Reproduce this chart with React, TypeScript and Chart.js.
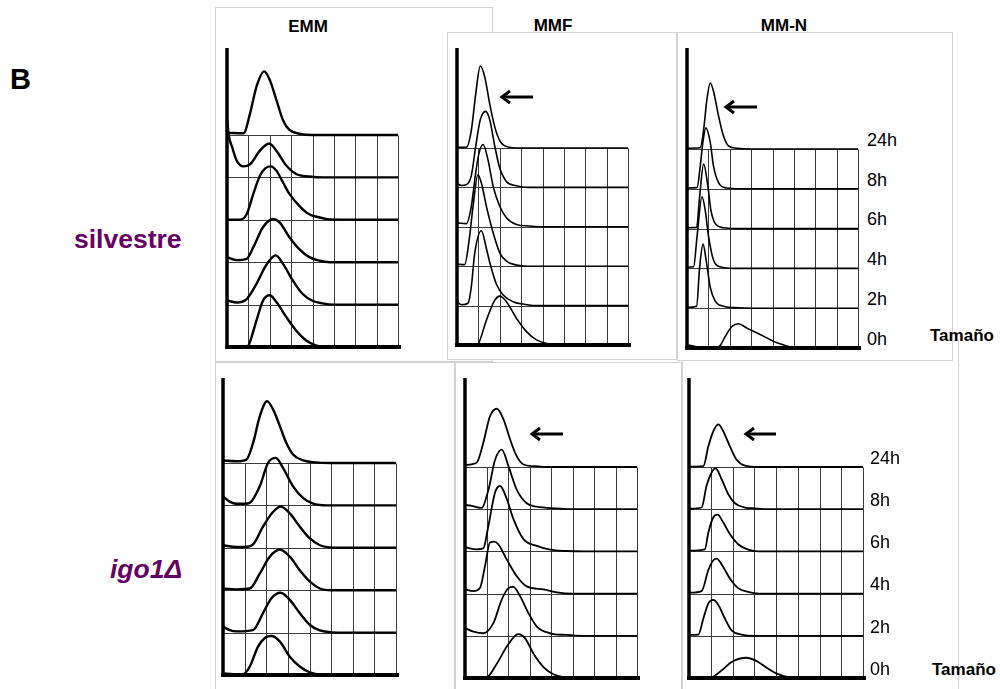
import React, { useEffect, useRef } from "react";
import { Chart, registerables } from "chart.js";

Chart.register(...registerables);

// ---------- DATA ----------
// Row labels (bottom row first)
const TIMES = ["0h", "2h", "4h", "6h", "8h", "24h"];
const MEDIA = ["EMM", "MMF", "MM-N"];
const STRAINS = ["silvestre", "igo1Δ"];
const X_AXIS_LABEL = "Tamaño";
const GRID_COLUMNS = 8;
const GRID_ROWS = 5;

// Each curve: [size (grid columns), height (row units)] ; curve order = TIMES
const wtEMM: number[][][] = [
  [[0, 0], [0.9, 0], [1.0, 0.03], [1.38, 0.63], [1.69, 1.1], [2.0, 1.22], [2.31, 1.06], [2.77, 0.71], [3.23, 0.39], [3.69, 0.16], [4.15, 0.04], [4.6, 0], [8, 0]],
  [[0, 0.1], [0.46, 0.05], [0.92, 0.13], [1.38, 0.49], [1.77, 0.88], [2.05, 1.08], [2.28, 1.16], [2.62, 0.96], [3.08, 0.57], [3.54, 0.25], [4.0, 0.09], [4.46, 0.03], [5, 0], [8, 0]],
  [[0, 0.12], [0.46, 0.05], [0.92, 0.08], [1.23, 0.35], [1.69, 0.83], [2.15, 1.02], [2.46, 0.94], [2.92, 0.59], [3.38, 0.31], [3.85, 0.12], [4.3, 0.04], [4.8, 0], [8, 0]],
  [[0, 0], [0.6, 0], [0.92, 0.13], [1.23, 0.61], [1.54, 1.04], [1.8, 1.22], [2.05, 1.26], [2.31, 1.16], [2.62, 0.88], [2.92, 0.61], [3.38, 0.33], [3.85, 0.13], [4.3, 0.06], [4.8, 0.01], [8, 0]],
  [[0, 1.4], [0.08, 1.0], [0.25, 0.7], [0.46, 0.39], [0.77, 0.26], [1.08, 0.31], [1.54, 0.63], [1.97, 0.8], [2.31, 0.63], [2.77, 0.28], [3.23, 0.08], [3.85, 0.02], [4.5, 0], [8, 0]],
  [[0, 0.05], [0.77, 0.04], [1.08, 0.51], [1.38, 1.14], [1.74, 1.5], [2.0, 1.3], [2.31, 0.83], [2.62, 0.35], [2.92, 0.12], [3.38, 0.03], [4, 0], [8, 0]],
];

const wtMMF: number[][][] = [
  [[0, 0], [0.9, 0], [1.0, 0.03], [1.375, 0.63], [1.77, 1.14], [2.0, 1.24], [2.31, 1.1], [2.78, 0.68], [3.25, 0.34], [3.72, 0.13], [4.19, 0.04], [4.7, 0], [8, 0]],
  [[0, 0.1], [0.2, 0.02], [0.52, 0.06], [0.67, 0.48], [0.83, 1.33], [1.14, 1.9], [1.375, 1.45], [1.53, 1.1], [1.84, 0.55], [2.16, 0.27], [2.62, 0.1], [3.2, 0.03], [3.8, 0], [8, 0]],
  [[0, 0.05], [0.36, 0.04], [0.59, 0.76], [0.75, 1.52], [0.98, 2.32], [1.14, 2.11], [1.375, 1.52], [1.69, 0.85], [2.0, 0.34], [2.31, 0.13], [2.78, 0.03], [3.3, 0], [8, 0]],
  [[0, 0.1], [0.44, 0.08], [0.67, 0.52], [0.875, 1.37], [1.03, 1.87], [1.22, 2.09], [1.45, 1.7], [1.69, 1.03], [2.0, 0.52], [2.31, 0.23], [2.78, 0.06], [3.4, 0.02], [4, 0], [8, 0]],
  [[0, 0.1], [0.2, 0.05], [0.44, 0.07], [0.67, 0.3], [0.875, 1.04], [1.09, 1.72], [1.34, 1.93], [1.53, 1.72], [1.77, 1.04], [2.0, 0.49], [2.31, 0.15], [2.78, 0.04], [3.3, 0], [8, 0]],
  [[0, 0.02], [0.44, 0.02], [0.67, 0.45], [0.875, 1.37], [1.09, 2.08], [1.3, 1.8], [1.53, 1.12], [1.77, 0.53], [2.0, 0.19], [2.31, 0.04], [3, 0], [8, 0]],
];

const wtMMN: number[][][] = [
  [[0, 0.08], [0.3, 0.05], [0.6, 0.02], [1.4, 0.02], [1.55, 0.06], [1.79, 0.29], [2.1, 0.54], [2.41, 0.61], [2.8, 0.5], [3.42, 0.34], [4.04, 0.17], [4.5, 0.08], [4.9, 0.02], [5.5, 0], [8, 0]],
  [[0, 0.02], [0.45, 0.05], [0.59, 1.02], [0.75, 1.61], [0.9, 1.19], [1.09, 0.52], [1.32, 0.18], [1.71, 0.05], [2.4, 0.01], [3, 0], [8, 0]],
  [[0, 0.03], [0.31, 0.04], [0.47, 0.8], [0.7, 1.8], [0.85, 1.47], [1.01, 0.8], [1.24, 0.21], [1.55, 0.04], [2.2, 0], [8, 0]],
  [[0, 0.02], [0.45, 0.03], [0.59, 0.8], [0.78, 1.62], [0.96, 1.13], [1.12, 0.46], [1.32, 0.13], [1.71, 0.02], [2.3, 0], [8, 0]],
  [[0, 0.02], [0.47, 0.03], [0.62, 0.57], [0.75, 1.2], [0.885, 1.53], [1.09, 1.16], [1.24, 0.57], [1.48, 0.15], [1.86, 0.02], [2.5, 0], [8, 0]],
  [[0, 0.02], [0.62, 0.03], [0.78, 0.49], [0.93, 1.24], [1.09, 1.66], [1.24, 1.45], [1.48, 0.82], [1.71, 0.32], [1.94, 0.08], [2.33, 0.02], [3, 0], [8, 0]],
];

const igoEMM: number[][][] = [
  [[0, 0.04], [0.5, 0.02], [0.93, 0.02], [1.24, 0.2], [1.62, 0.67], [1.95, 0.88], [2.24, 0.92], [2.63, 0.79], [3.09, 0.43], [3.55, 0.2], [4.02, 0.06], [4.48, 0.01], [5, 0], [8, 0]],
  [[0, 0.14], [0.31, 0.06], [0.62, 0.03], [1.39, 0.06], [1.85, 0.46], [2.24, 0.81], [2.66, 0.94], [3.09, 0.77], [3.55, 0.46], [4.02, 0.18], [4.48, 0.05], [4.94, 0.01], [5.5, 0], [8, 0]],
  [[0, 0.04], [0.62, 0.02], [1.24, 0.04], [1.7, 0.39], [2.16, 0.79], [2.63, 0.96], [3.09, 0.79], [3.55, 0.47], [4.02, 0.2], [4.48, 0.04], [5, 0], [8, 0]],
  [[0, 0.06], [0.62, 0.02], [1.0, 0.02], [1.39, 0.08], [1.85, 0.5], [2.32, 0.85], [2.67, 0.97], [3.09, 0.81], [3.55, 0.5], [4.02, 0.22], [4.48, 0.06], [4.94, 0.01], [5.5, 0], [8, 0]],
  [[0, 0.21], [0.31, 0.09], [0.62, 0.04], [1.0, 0.04], [1.24, 0.06], [1.7, 0.45], [2.08, 1.0], [2.44, 1.12], [2.78, 0.88], [3.24, 0.45], [3.71, 0.17], [4.17, 0.04], [4.8, 0], [8, 0]],
  [[0, 0.06], [0.62, 0.04], [1.08, 0.08], [1.39, 0.47], [1.7, 1.1], [2.04, 1.46], [2.32, 1.26], [2.63, 0.87], [2.93, 0.47], [3.24, 0.2], [3.71, 0.06], [4.17, 0.02], [5, 0], [8, 0]],
];

const igoMMF: number[][][] = [
  [[0, 0], [1.01, 0.02], [1.48, 0.34], [1.94, 0.74], [2.48, 1.04], [2.8, 0.94], [3.18, 0.58], [3.65, 0.26], [4.11, 0.09], [4.58, 0.02], [5.2, 0], [8, 0]],
  [[0, 0.18], [0.39, 0.1], [0.85, 0.06], [1.32, 0.3], [1.71, 0.86], [2.02, 1.13], [2.25, 1.16], [2.56, 0.94], [2.95, 0.54], [3.34, 0.22], [3.96, 0.06], [4.7, 0.02], [5.5, 0], [8, 0]],
  [[0, 0.1], [0.39, 0.06], [0.7, 0.14], [0.93, 0.65], [1.16, 1.21], [1.35, 1.23], [1.55, 1.17], [1.94, 0.81], [2.41, 0.41], [2.87, 0.17], [3.65, 0.1], [4.27, 0.03], [5, 0], [8, 0]],
  [[0, 0.1], [0.54, 0.05], [0.85, 0.07], [1.09, 0.61], [1.4, 1.4], [1.63, 1.55], [1.94, 1.25], [2.25, 0.77], [2.72, 0.29], [3.34, 0.13], [3.96, 0.04], [4.7, 0.01], [5.5, 0], [8, 0]],
  [[0, 0.1], [0.31, 0.08], [0.78, 0.03], [1.09, 0.46], [1.4, 1.17], [1.71, 1.41], [2.02, 1.02], [2.41, 0.46], [2.87, 0.14], [3.34, 0.06], [4.27, 0.02], [5, 0], [8, 0]],
  [[0, 0.05], [0.54, 0.1], [0.85, 0.57], [1.16, 1.2], [1.48, 1.38], [1.79, 1.13], [2.1, 0.65], [2.41, 0.25], [2.72, 0.06], [3.18, 0.02], [4, 0], [8, 0]],
];

const igoMMN: number[][][] = [
  [[0, 0], [1.04, 0.02], [1.5, 0.18], [1.96, 0.38], [2.65, 0.48], [3.18, 0.38], [3.64, 0.22], [4.1, 0.09], [4.56, 0.02], [5.2, 0], [8, 0]],
  [[0, 0.02], [0.43, 0.03], [0.66, 0.41], [0.89, 0.77], [1.12, 0.85], [1.35, 0.73], [1.65, 0.41], [1.96, 0.13], [2.42, 0.03], [3, 0], [8, 0]],
  [[0, 0.02], [0.58, 0.06], [0.89, 0.56], [1.12, 0.79], [1.27, 0.83], [1.57, 0.63], [1.88, 0.36], [2.26, 0.13], [2.72, 0.04], [3.2, 0], [8, 0]],
  [[0, 0.02], [0.73, 0.05], [0.89, 0.45], [1.12, 0.81], [1.31, 0.87], [1.57, 0.69], [1.88, 0.41], [2.26, 0.17], [2.72, 0.04], [3.2, 0], [8, 0]],
  [[0, 0.01], [0.58, 0.04], [0.81, 0.56], [1.04, 0.87], [1.22, 0.97], [1.5, 0.71], [1.8, 0.36], [2.11, 0.14], [2.57, 0.04], [3.03, 0.02], [3.6, 0], [8, 0]],
  [[0, 0.01], [0.66, 0.02], [0.89, 0.49], [1.12, 0.85], [1.35, 1.01], [1.57, 0.85], [1.88, 0.49], [2.19, 0.17], [2.57, 0.03], [3.2, 0], [8, 0]],
];

// ---------- LAYOUT ----------
type PanelCfg = {
  curves: number[][][];
  left: number; right: number; top: number; gridTop: number; bottom: number; lw: number;
};

const PANELS: PanelCfg[] = [
  { curves: wtEMM, left: 227, right: 398, top: 48, gridTop: 135, bottom: 347, lw: 2.4 },
  { curves: wtMMF, left: 457, right: 628, top: 48, gridTop: 148, bottom: 345, lw: 1.6 },
  { curves: wtMMN, left: 687, right: 858, top: 48, gridTop: 149, bottom: 348, lw: 1.6 },
  { curves: igoEMM, left: 223, right: 396, top: 378, gridTop: 463, bottom: 675, lw: 2.4 },
  { curves: igoMMF, left: 465, right: 637, top: 378, gridTop: 467, bottom: 678, lw: 1.8 },
  { curves: igoMMN, left: 689, right: 863, top: 378, gridTop: 467, bottom: 678, lw: 1.8 },
];

const BOXES = [
  { l: 215, t: 7, r: 493, b: 362 },
  { l: 447, t: 32, r: 677, b: 360 },
  { l: 215, t: 362, r: 455, b: 700 },
  { l: 455, t: 362, r: 682, b: 700 },
  { l: 682, t: 340, r: 959, b: 700 },
  { l: 677, t: 32, r: 953, b: 361 },
];

const ARROWS = [
  { x1: 501, x2: 533, y: 97 },
  { x1: 725, x2: 757, y: 107 },
  { x1: 531, x2: 563, y: 434 },
  { x1: 745, x2: 776, y: 434 },
];

const FONT = '"Liberation Sans", Arial, Helvetica, sans-serif';
const PAD = 8;

const gridPlugin = {
  id: "histGrid",
  beforeDatasetsDraw(chart: any) {
    const { ctx, scales } = chart;
    const xs = scales.x, ys = scales.y;
    ctx.save();
    ctx.strokeStyle = "#3c3c3c";
    ctx.lineWidth = 1;
    const yb = ys.getPixelForValue(0), yt = ys.getPixelForValue(GRID_ROWS);
    const xl = xs.getPixelForValue(0), xr = xs.getPixelForValue(GRID_COLUMNS);
    ctx.beginPath();
    for (let c = 1; c <= GRID_COLUMNS; c++) {
      const px = Math.round(xs.getPixelForValue(c)) + 0.5;
      ctx.moveTo(px, yb);
      ctx.lineTo(px, Math.round(yt) + 0.5);
    }
    for (let r = 1; r <= GRID_ROWS; r++) {
      const py = Math.round(ys.getPixelForValue(r)) + 0.5;
      ctx.moveTo(xl, py);
      ctx.lineTo(xr, py);
    }
    ctx.stroke();
    ctx.restore();
  },
  afterDatasetsDraw(chart: any) {
    const { ctx, scales, chartArea } = chart;
    const xs = scales.x, ys = scales.y;
    const x0 = xs.getPixelForValue(0);
    const y0 = ys.getPixelForValue(0);
    ctx.save();
    ctx.strokeStyle = "#000";
    ctx.lineCap = "butt";
    ctx.lineWidth = 3.5;
    ctx.beginPath();
    ctx.moveTo(x0, y0 + 2);
    ctx.lineTo(x0, chartArea.top);
    ctx.stroke();
    ctx.lineWidth = 4;
    ctx.beginPath();
    ctx.moveTo(x0 - 1.75, y0);
    ctx.lineTo(xs.getPixelForValue(GRID_COLUMNS) + 3, y0);
    ctx.stroke();
    ctx.restore();
  },
};

function Panel({ cfg }: { cfg: PanelCfg }) {
  const ref = useRef<HTMLCanvasElement>(null);
  const w = cfg.right - cfg.left + 2 * PAD;
  const h = cfg.bottom - cfg.top + 2 * PAD;
  useEffect(() => {
    if (!ref.current) return;
    const rowH = (cfg.bottom - cfg.gridTop) / GRID_ROWS;
    const yMax = (cfg.bottom - cfg.top) / rowH;
    const chart = new Chart(ref.current, {
      type: "line",
      data: {
        datasets: cfg.curves.map((curve, i) => ({
          label: TIMES[i],
          data: curve.map(([x, v]) => ({ x, y: i + v })),
          borderColor: "#000",
          borderWidth: cfg.lw,
          pointRadius: 0,
          fill: false,
          cubicInterpolationMode: "monotone",
          clip: false,
        })),
      },
      options: {
        animation: false,
        responsive: false,
        devicePixelRatio: 1,
        events: [],
        layout: { padding: PAD },
        plugins: { legend: { display: false }, tooltip: { enabled: false }, title: { display: false } },
        scales: {
          x: { type: "linear", min: 0, max: GRID_COLUMNS, display: false },
          y: { type: "linear", min: 0, max: yMax, display: false },
        },
      },
      plugins: [gridPlugin],
    } as any);
    return () => chart.destroy();
  }, []);
  return (
    <canvas
      ref={ref}
      width={w}
      height={h}
      style={{ position: "absolute", left: cfg.left - PAD, top: cfg.top - PAD, width: w, height: h }}
    />
  );
}

function Txt({ x, baseline, size, children, bold, italic, color, align }: any) {
  const top = baseline - 0.847 * size;
  const style: React.CSSProperties = {
    position: "absolute",
    top,
    fontFamily: FONT,
    fontSize: size,
    lineHeight: `${size}px`,
    fontWeight: bold ? 700 : 400,
    fontStyle: italic ? "italic" : "normal",
    color: color || "#000",
    whiteSpace: "nowrap",
  };
  if (align === "center") {
    style.left = x - 60;
    style.width = 120;
    style.textAlign = "center";
  } else {
    style.left = x;
  }
  return <div style={style}>{children}</div>;
}

export default function App() {
  const rightPanels = [PANELS[2], PANELS[5]];
  const labelX = [867, 870];
  return (
    <div style={{ position: "absolute", left: 0, top: 0, width: 1000, height: 689, background: "#fff", overflow: "hidden" }}>
      <Txt x={308} baseline={32} size={17} bold align="center">{MEDIA[0]}</Txt>
      <Txt x={553} baseline={31} size={17} bold align="center">{MEDIA[1]}</Txt>
      <Txt x={784} baseline={31} size={17} bold align="center">{MEDIA[2]}</Txt>
      {BOXES.map((b, i) => (
        <div
          key={i}
          style={{
            position: "absolute",
            left: b.l,
            top: b.t,
            width: b.r - b.l,
            height: b.b - b.t,
            border: "1px solid #d2d2d2",
            background: i === 0 ? "transparent" : "#fff",
            boxSizing: "border-box",
          }}
        />
      ))}
      {PANELS.map((p, i) => (
        <Panel key={i} cfg={p} />
      ))}
      <Txt x={10} baseline={90} size={29} bold>B</Txt>
      <Txt x={74} baseline={248} size={26.5} bold color="#660066">{STRAINS[0]}</Txt>
      <Txt x={110} baseline={578} size={26.5} bold italic color="#660066">{STRAINS[1]}</Txt>
      {rightPanels.map((p, k) => {
        const rowH = (p.bottom - p.gridTop) / GRID_ROWS;
        return TIMES.map((t, r) => (
          <Txt key={`${k}-${t}`} x={labelX[k]} baseline={p.bottom - r * rowH - 3} size={18}>{t}</Txt>
        ));
      })}
      <Txt x={930} baseline={341} size={17} bold>{X_AXIS_LABEL}</Txt>
      <Txt x={932} baseline={675} size={17} bold>{X_AXIS_LABEL}</Txt>
      <svg width={1000} height={689} style={{ position: "absolute", left: 0, top: 0, pointerEvents: "none" }}>
        {ARROWS.map((a, i) => (
          <g key={i} stroke="#000" strokeWidth={3} fill="none">
            <line x1={a.x1 + 1} y1={a.y} x2={a.x2} y2={a.y} />
            <polyline points={`${a.x1 + 9},${a.y - 6} ${a.x1 + 1},${a.y} ${a.x1 + 9},${a.y + 6}`} strokeLinejoin="miter" />
          </g>
        ))}
      </svg>
    </div>
  );
}
